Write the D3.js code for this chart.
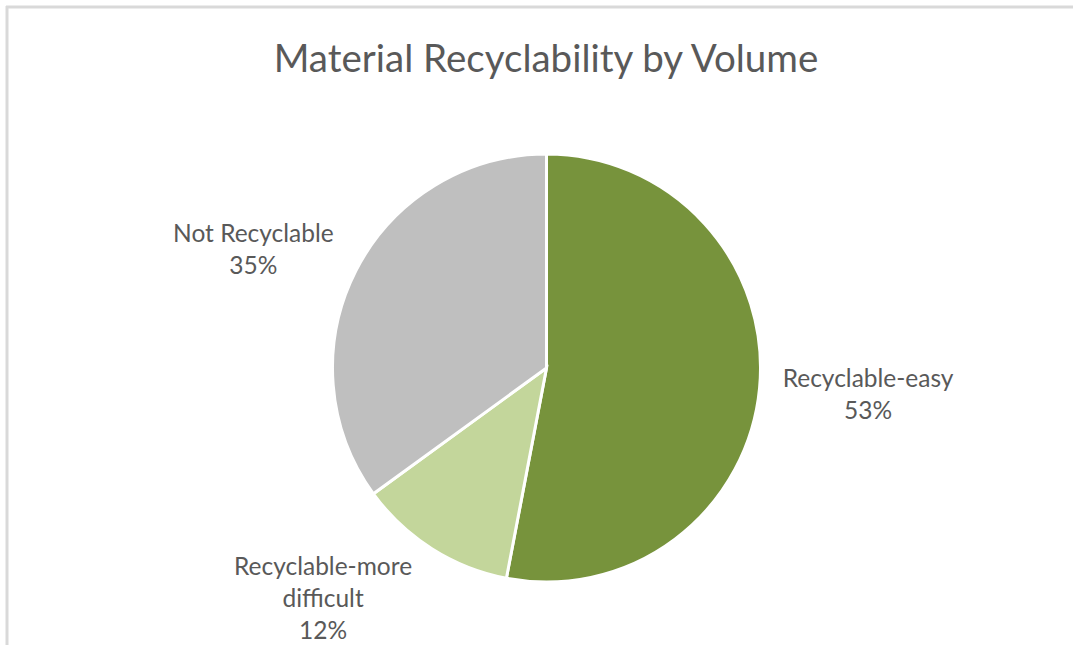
<!DOCTYPE html>
<html>
<head>
<meta charset="utf-8">
<script src="https://cdn.jsdelivr.net/npm/d3@7"></script>
<style>
  body { margin: 0; background: #fff; }
  text { font-family: Lato, "Open Sans", sans-serif; fill: #595959; }
</style>
</head>
<body>
<div id="chart"></div>
<script>
var categories = ["Recyclable-easy", "Recyclable-more difficult", "Not Recyclable"];
var labelLines = [["Recyclable-easy"], ["Recyclable-more", "difficult"], ["Not Recyclable"]];
var values = [53, 12, 35];
var colors = ["#77933c", "#c3d69b", "#bfbfbf"];
var title = "Material Recyclability by Volume";

var width = 1073,
  height = 645
var svg = d3
  .select("#chart")
  .append("svg")
  .attr("width", width)
  .attr("height", height)

// chart frame (only top and left edges show in the crop)
svg.append("line")
  .attr("x1", 6).attr("y1", 7).attr("x2", width).attr("y2", 7)
  .style("stroke", "#d9d9d9").style("stroke-width", 3)
svg.append("line")
  .attr("x1", 7).attr("y1", 6).attr("x2", 7).attr("y2", height)
  .style("stroke", "#d9d9d9").style("stroke-width", 3)

svg.append("text")
  .attr("x", 546)
  .attr("y", 72)
  .attr("text-anchor", "middle")
  .style("font-size", "38.5px")
  .text(title)

var cx = 546.5, cy = 368, r = 214
var g = svg.append("g").attr("transform", "translate(" + cx + "," + cy + ")")

var data = categories.map(function (c, i) {
  return { name: c, value: values[i], color: colors[i], lines: labelLines[i] }
})
var pie = d3.pie().sort(null).value(function (d) { return d.value })
var arc = d3.arc().innerRadius(0).outerRadius(r)
var labelArc = d3.arc().innerRadius(320).outerRadius(320)
// excel "best fit" nudges
var nudge = [[3, -2], [-52, -38], [-8, 28]]

var arcs = pie(data)
g.selectAll("path")
  .data(arcs)
  .enter()
  .append("path")
  .attr("d", arc)
  .attr("fill", function (d) { return d.data.color })
  .style("stroke", "#fff")
  .style("stroke-width", 3)

var lineH = 32
g.selectAll(".label")
  .data(arcs)
  .enter()
  .append("text")
  .attr("class", "label")
  .attr("text-anchor", "middle")
  .style("font-size", "24.5px")
  .each(function (d, i) {
    var c = labelArc.centroid(d)
    var lines = d.data.lines.concat([d.data.value + "%"])
    var x = c[0] + nudge[i][0]
    var y0 = c[1] + nudge[i][1] - (lines.length - 1) * lineH / 2 + 7
    var t = d3.select(this)
    lines.forEach(function (l, j) {
      t.append("tspan").attr("x", x).attr("y", y0 + j * lineH).text(l)
    })
  })
</script>
</body>
</html>
